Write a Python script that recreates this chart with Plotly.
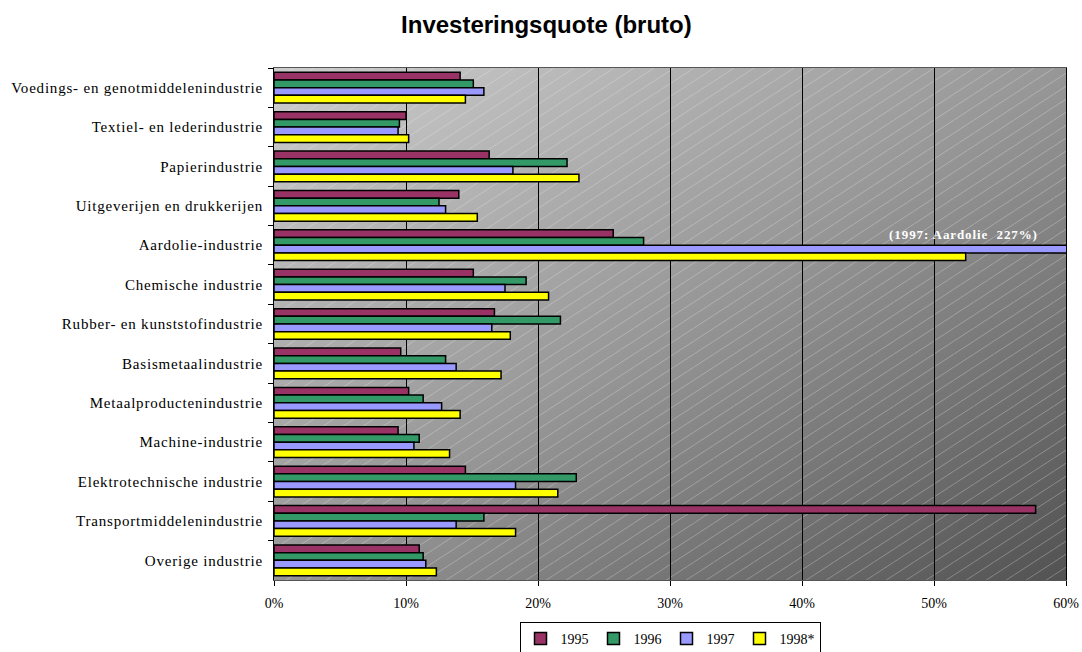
import base64
import plotly.graph_objects as go

categories = [
    "Voedings- en genotmiddelenindustrie",
    "Textiel- en lederindustrie",
    "Papierindustrie",
    "Uitgeverijen en drukkerijen",
    "Aardolie-industrie",
    "Chemische industrie",
    "Rubber- en kunststofindustrie",
    "Basismetaalindustrie",
    "Metaalproductenindustrie",
    "Machine-industrie",
    "Elektrotechnische industrie",
    "Transportmiddelenindustrie",
    "Overige industrie",
]

v1995 = [14.1, 10.0, 16.3, 14.0, 25.7, 15.1, 16.7, 9.6, 10.2, 9.4, 14.5, 57.7, 11.0]
v1996 = [15.1, 9.5, 22.2, 12.5, 28.0, 19.1, 21.7, 13.0, 11.3, 11.0, 22.9, 15.9, 11.3]
v1997 = [15.9, 9.4, 18.1, 13.0, 227.0, 17.5, 16.5, 13.8, 12.7, 10.6, 18.3, 13.8, 11.5]
v1998 = [14.5, 10.2, 23.1, 15.4, 52.4, 20.8, 17.9, 17.2, 14.1, 13.3, 21.5, 18.3, 12.3]

series_names = ["1995", "1996", "1997", "1998*"]
series_values = [v1995, v1996, v1997, v1998]
series_colors = ["#993366", "#339966", "#9999FF", "#FFFF00"]

x_ticks = [0, 10, 20, 30, 40, 50, 60]
x_labels = ["0%", "10%", "20%", "30%", "40%", "50%", "60%"]

serif = "Liberation Serif, Times New Roman, serif"

fig = go.Figure()
for name, vals, col in zip(series_names, series_values, series_colors):
    fig.add_trace(go.Bar(
        y=categories, x=vals, name=name, orientation="h",
        marker=dict(color=col, line=dict(color="black", width=1.5)),
    ))

# background gradient with diagonal hatching (SVG)
W, H = 792, 512
svg = f'''<svg xmlns="http://www.w3.org/2000/svg" width="{W}" height="{H}" viewBox="0 0 {W} {H}" preserveAspectRatio="none">
<defs>
<linearGradient id="g" x1="0" y1="0" x2="1" y2="1">
<stop offset="0" stop-color="#cdcdcd"/>
<stop offset="0.5" stop-color="#979797"/>
<stop offset="1" stop-color="#525252"/>
</linearGradient>
<pattern id="p" width="20" height="13" patternUnits="userSpaceOnUse">
<path d="M0,13 L20,0 M-20,13 L0,0 M20,13 L40,0" stroke="#e8e8e8" stroke-opacity="0.45" stroke-width="0.7"/>
</pattern>
</defs>
<rect width="{W}" height="{H}" fill="url(#g)"/>
<rect width="{W}" height="{H}" fill="url(#p)"/>
</svg>'''
src = "data:image/svg+xml;base64," + base64.b64encode(svg.encode()).decode()

fig.add_layout_image(dict(
    source=src, xref="paper", yref="paper", x=0, y=1, sizex=1, sizey=1,
    sizing="stretch", xanchor="left", yanchor="top", layer="below",
))

fig.add_annotation(
    x=57.3, y="Aardolie-industrie", yshift=11, text="(1997: Aardolie  227%)",
    showarrow=False, xanchor="right", yanchor="middle",
    font=dict(family=serif, size=13, color="white", weight="bold"),
)

fig.update_layout(
    width=1082, height=652,
    margin=dict(l=274, r=16, t=68, b=72),
    paper_bgcolor="white",
    plot_bgcolor="rgba(0,0,0,0)",
    barmode="group", bargap=0.22, bargroupgap=0.0,
    title=dict(text="<b>Investeringsquote (bruto)</b>", x=0.505, xref="container",
               xanchor="center", y=0.963, yanchor="middle",
               font=dict(family="Liberation Sans, Arial, sans-serif", size=24, color="black")),
    xaxis=dict(
        range=[0, 60], tickvals=x_ticks, ticktext=x_labels,
        showgrid=True, gridcolor="black", gridwidth=1,
        showline=True, linecolor="#555555", linewidth=1, mirror=True,
        ticks="outside", ticklen=5, tickcolor="black", ticklabelstandoff=5,
        tickfont=dict(family=serif, size=14, color="black"),
        zeroline=False, automargin=False,
    ),
    yaxis=dict(
        autorange="reversed", type="category",
        showline=True, linecolor="black", linewidth=1, mirror=True,
        ticks="outside", ticklen=5, tickcolor="black", tickson="boundaries",
        ticklabelstandoff=7,
        tickfont=dict(family=serif, size=15, color="black"),
        showgrid=False, automargin=False,
    ),
    legend=dict(
        orientation="h", x=0.5, xanchor="center", xref="paper",
        y=(652 - 622) / 652, yanchor="top", yref="container",
        bgcolor="white", bordercolor="black", borderwidth=1,
        font=dict(family=serif, size=14, color="black"),
        itemwidth=30, traceorder="normal", tracegroupgap=0,
    ),
)

post = """
document.body.style.margin = '0';
var gd = document.getElementById('{plot_id}');
gd.querySelectorAll('.ytick text').forEach(function(t){ t.style.letterSpacing = '0.8px'; });
gd.querySelectorAll('.annotation-text').forEach(function(t){ t.style.letterSpacing = '0.9px'; });
"""

fig.write_html("out.html", post_script=post, config={"displayModeBar": False})
